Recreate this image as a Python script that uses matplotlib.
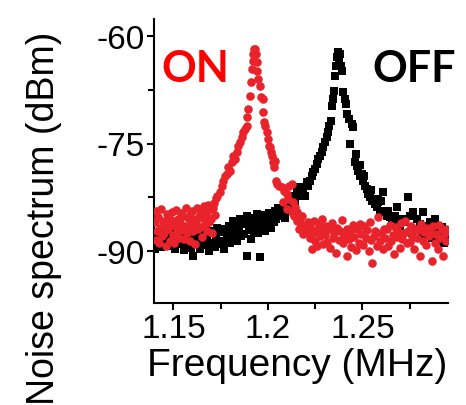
import numpy as np
import matplotlib
matplotlib.use("Agg")
import matplotlib.pyplot as plt
from matplotlib.ticker import FixedLocator

# ---- data (MHz, dBm) ----
on_freq = [
    1.1400, 1.1405, 1.1410, 1.1415, 1.1420, 1.1425, 1.1430, 1.1435, 1.1440, 1.1445,
    1.1450, 1.1455, 1.1460, 1.1465, 1.1470, 1.1475, 1.1480, 1.1485, 1.1490, 1.1495,
    1.1500, 1.1505, 1.1510, 1.1515, 1.1520, 1.1525, 1.1530, 1.1535, 1.1540, 1.1545,
    1.1550, 1.1555, 1.1560, 1.1565, 1.1570, 1.1575, 1.1580, 1.1585, 1.1590, 1.1595,
    1.1600, 1.1605, 1.1610, 1.1615, 1.1620, 1.1625, 1.1630, 1.1635, 1.1640, 1.1645,
    1.1650, 1.1655, 1.1660, 1.1665, 1.1670, 1.1675, 1.1680, 1.1685, 1.1690, 1.1695,
    1.1700, 1.1705, 1.1710, 1.1715, 1.1720, 1.1725, 1.1729, 1.1746, 1.1755, 1.1764,
    1.1773, 1.1782, 1.1790, 1.1799, 1.1808, 1.1817, 1.1826, 1.1834, 1.1843, 1.1852,
    1.1861, 1.1870, 1.1878, 1.1887, 1.1891, 1.1896, 1.1905, 1.1910, 1.1916, 1.1919,
    1.1923, 1.1928, 1.1933, 1.1937, 1.1940, 1.1944, 1.1949, 1.1958, 1.1961, 1.1972,
    1.1976, 1.1979, 1.1986, 1.1993, 1.1999, 1.2004, 1.2011, 1.2016, 1.2023, 1.2029,
    1.2034, 1.2038, 1.2043, 1.2050, 1.2061, 1.2073, 1.2081, 1.2086, 1.2099, 1.2099,
    1.2108, 1.2113, 1.2126, 1.2126, 1.2134, 1.2138, 1.2143, 1.2152, 1.2152, 1.2161,
    1.2166, 1.2170, 1.2178, 1.2184, 1.2187, 1.2196, 1.2205, 1.2214,
    1.2220, 1.2225, 1.2232, 1.2238, 1.2245, 1.2250, 1.2256, 1.2262, 1.2268, 1.2274,
    1.2279, 1.2284, 1.2292, 1.2300, 1.2308, 1.2315, 1.2322, 1.2330, 1.2338, 1.2345,
    1.2352, 1.2360, 1.2368, 1.2375, 1.2382, 1.2390, 1.2398, 1.2405, 1.2417, 1.2420,
    1.2428, 1.2435, 1.2442, 1.2450, 1.2458, 1.2465, 1.2472, 1.2480, 1.2488, 1.2495,
    1.2503, 1.2510, 1.2518, 1.2525, 1.2533, 1.2540, 1.2547, 1.2553, 1.2560, 1.2568,
    1.2575, 1.2584, 1.2592, 1.2600, 1.2608, 1.2615, 1.2622, 1.2630, 1.2638, 1.2645,
    1.2652, 1.2660, 1.2668, 1.2675, 1.2682, 1.2690, 1.2698, 1.2705, 1.2712, 1.2720,
    1.2728, 1.2735, 1.2742, 1.2750, 1.2758, 1.2765, 1.2772, 1.2780, 1.2788, 1.2795,
    1.2805, 1.2812, 1.2820, 1.2828, 1.2835, 1.2842, 1.2850, 1.2858, 1.2867, 1.2875,
    1.2882, 1.2890, 1.2898, 1.2905, 1.2912, 1.2920, 1.2929, 1.2935, 1.2940, 1.2945,
]
on_noise = [
    -86.0, -88.5, -84.5, -87.2, -85.3, -89.0, -86.8, -84.2, -88.0, -85.8,
    -87.5, -86.2, -89.3, -84.9, -87.0, -85.5, -88.6, -86.4, -84.6, -87.8,
    -85.9, -88.9, -86.6, -84.3, -87.4, -85.6, -88.2, -86.1, -84.8, -87.1,
    -85.2, -88.4, -86.5, -84.1, -87.6, -85.4, -86.9, -88.7, -85.0, -86.3,
    -84.4, -87.3, -85.7, -89.1, -86.0, -84.0, -87.0, -85.1, -86.7, -84.5,
    -88.1, -85.5, -83.8, -86.2, -84.7, -87.2, -85.3, -83.6, -86.0, -84.2,
    -85.6, -87.5, -84.0, -83.3, -85.0, -82.6, -82.3, -81.8, -80.9, -80.2,
    -79.5, -79.3, -78.3, -78.8, -77.6, -76.7, -77.2, -76.2, -75.3, -74.8,
    -74.1, -73.4, -73.0, -72.5, -71.3, -70.2, -68.3, -66.4, -64.6, -63.4,
    -62.5, -61.8, -61.7, -62.5, -63.6, -64.8, -66.0, -66.9, -68.5, -68.8,
    -70.6, -72.0, -72.5, -73.4, -74.4, -75.3, -75.5, -76.2, -76.7, -77.6,
    -78.3, -77.4, -80.2, -80.7, -80.9, -81.1, -83.2, -81.6, -82.1, -84.2,
    -82.8, -80.9, -80.7, -84.6, -83.2, -85.1, -83.9, -84.6, -85.8, -85.6,
    -87.0, -86.0, -85.1, -87.7, -87.0, -86.5, -87.4, -86.0,
    -88.3, -86.7, -89.8, -87.5, -85.9, -88.6, -87.1, -89.4, -86.3, -88.0,
    -87.3, -85.6, -89.1, -87.8, -86.5, -88.8, -87.0, -89.6, -86.1, -88.2,
    -87.6, -90.3, -86.8, -88.5, -87.2, -85.7, -89.0, -87.9, -90.7, -86.9,
    -88.4, -87.4, -89.5, -86.4, -88.1, -89.9, -87.0, -88.9, -86.2, -87.7,
    -89.2, -86.6, -88.3, -87.1, -90.1, -86.0, -88.5, -91.7, -88.0, -87.3,
    -89.4, -85.3, -88.7, -87.5, -89.8, -86.9, -88.2, -87.0, -89.3, -86.4,
    -88.6, -87.8, -90.4, -86.7, -88.1, -87.2, -89.6, -86.1, -88.4, -87.6,
    -85.8, -89.0, -87.3, -88.8, -86.5, -87.9, -89.7, -86.9, -88.3, -87.1,
    -90.7, -86.3, -88.6, -87.4, -89.2, -86.8, -88.0, -87.5, -91.4, -86.6,
    -88.9, -87.7, -89.8, -86.4, -88.2, -87.0, -90.7, -87.6, -88.7, -86.9,
]

off_freq = [
    1.1400, 1.1405, 1.1412, 1.1420, 1.1428, 1.1435, 1.1442, 1.1450, 1.1458, 1.1465,
    1.1472, 1.1480, 1.1488, 1.1495, 1.1502, 1.1510, 1.1518, 1.1525, 1.1532, 1.1540,
    1.1548, 1.1555, 1.1562, 1.1570, 1.1578, 1.1585, 1.1592, 1.1600, 1.1605, 1.1612,
    1.1620, 1.1628, 1.1635, 1.1642, 1.1650, 1.1658, 1.1665, 1.1672, 1.1680, 1.1688,
    1.1695, 1.1702, 1.1710, 1.1718, 1.1725, 1.1732, 1.1740, 1.1748, 1.1755, 1.1762,
    1.1770, 1.1778, 1.1785, 1.1792, 1.1800, 1.1808, 1.1815, 1.1822, 1.1830, 1.1838,
    1.1845, 1.1852, 1.1860, 1.1868, 1.1875, 1.1882, 1.1887, 1.1890, 1.1898, 1.1905,
    1.1912, 1.1920, 1.1928, 1.1935, 1.1942, 1.1950, 1.1958, 1.1962, 1.1970, 1.1978,
    1.1985, 1.1992, 1.2000, 1.2008, 1.2015, 1.2022, 1.2030, 1.2038, 1.2045, 1.2052,
    1.2060, 1.2068, 1.2075,
    1.2081, 1.2090, 1.2099, 1.2108, 1.2117, 1.2126, 1.2134, 1.2143, 1.2152, 1.2161,
    1.2170, 1.2178, 1.2187, 1.2196, 1.2205, 1.2214, 1.2223, 1.2231, 1.2240, 1.2249,
    1.2258, 1.2267, 1.2276, 1.2284, 1.2293, 1.2302, 1.2311, 1.2320, 1.2325, 1.2332,
    1.2337, 1.2343, 1.2350, 1.2355, 1.2360, 1.2367, 1.2373, 1.2378, 1.2382, 1.2387,
    1.2394, 1.2399, 1.2406, 1.2413, 1.2420, 1.2427, 1.2435, 1.2443, 1.2452, 1.2461,
    1.2465, 1.2470, 1.2479, 1.2485, 1.2488, 1.2496, 1.2505, 1.2510, 1.2514, 1.2523,
    1.2532, 1.2541, 1.2545, 1.2549, 1.2558, 1.2567, 1.2576, 1.2580, 1.2585, 1.2594,
    1.2600, 1.2611, 1.2620, 1.2629, 1.2638, 1.2646, 1.2655, 1.2673, 1.2682, 1.2691,
    1.2700, 1.2708, 1.2726, 1.2743, 1.2752, 1.2760, 1.2770, 1.2788, 1.2805, 1.2815,
    1.2823, 1.2841, 1.2858, 1.2870, 1.2876, 1.2885, 1.2902, 1.2910, 1.2920, 1.2930,
    1.2937, 1.2950,
]
off_noise = [
    -89.8, -88.2, -89.0, -87.5, -88.7, -89.5, -87.9, -88.4, -89.2, -87.6,
    -88.9, -88.0, -89.4, -87.3, -88.6, -89.7, -87.8, -88.3, -89.1, -87.4,
    -88.8, -89.9, -88.1, -89.3, -87.7, -88.5, -89.6, -87.2, -90.7, -88.3,
    -89.0, -87.5, -88.7, -89.8, -87.9, -88.4, -89.2, -87.1, -88.6, -90.0,
    -87.6, -88.9, -87.3, -89.5, -88.0, -86.8, -89.1, -87.4, -88.6, -86.9,
    -89.8, -87.2, -88.3, -86.5, -88.9, -87.0, -85.9, -88.1, -86.6, -88.7,
    -87.4, -85.6, -88.0, -86.3, -87.7, -86.0, -90.7, -85.2, -87.1, -86.0,
    -88.4, -85.5, -87.3, -86.1, -84.9, -87.6, -90.9, -85.8, -86.9, -85.0,
    -87.2, -85.7, -86.4, -84.7, -86.8, -85.3, -86.0, -84.5, -85.6, -84.1,
    -85.2, -84.0, -84.8,
    -84.6, -85.5, -83.7, -84.3, -82.8, -83.9, -82.3, -83.0, -81.6, -82.3,
    -81.1, -82.0, -81.4, -82.3, -80.4, -80.9, -80.2, -79.5, -79.0, -78.6,
    -77.9, -77.2, -76.7, -76.2, -75.5, -74.8, -74.1, -73.4, -72.5, -71.8,
    -69.7, -68.8, -67.6, -65.5, -64.1, -62.9, -62.2, -63.2, -62.5, -64.1,
    -64.8, -67.8, -68.8, -69.5, -70.9, -71.6, -75.1, -72.3, -72.7, -77.6,
    -76.5, -78.1, -78.8, -78.0, -79.5, -79.3, -80.2, -79.5, -80.9, -81.4,
    -82.1, -82.5, -81.5, -83.0, -82.8, -83.5, -83.9, -82.7, -83.2, -84.4,
    -83.0, -81.8, -84.6, -85.1, -84.4, -85.3, -85.6, -85.1, -83.9, -85.8,
    -87.2, -85.6, -86.0, -82.5, -85.1, -87.5, -84.6, -85.6, -86.3, -87.8,
    -84.6, -86.5, -86.0, -88.3, -87.0, -85.6, -87.4, -88.6, -86.7, -89.0,
    -87.9, -87.4,
]

x_ticks = [1.15, 1.2, 1.25]
x_tick_labels = ["1.15", "1.2", "1.25"]
y_ticks = [-60, -75, -90]

# ---- figure ----
plt.rcParams["font.family"] = ["Liberation Sans", "DejaVu Sans"]
plt.rcParams["axes.unicode_minus"] = False

fig = plt.figure(figsize=(4.66, 4.06), dpi=100)
ax = fig.add_axes([154 / 466, 1 - 304 / 406, 294 / 466, 284 / 406])

ax.scatter(off_freq, off_noise, marker="s", s=30, color="black", linewidths=0, zorder=2)
ax.scatter(on_freq, on_noise, marker="o", s=38, color="#e8232b", linewidths=0, zorder=3)

ax.set_xlim(1.1397, 1.2953)
ax.set_ylim(-97.33, -57.57)

ax.xaxis.set_major_locator(FixedLocator(x_ticks))
ax.set_xticklabels(x_tick_labels)
ax.xaxis.set_minor_locator(FixedLocator([1.175, 1.225, 1.275]))
ax.yaxis.set_major_locator(FixedLocator(y_ticks))
ax.yaxis.set_minor_locator(FixedLocator([-67.5, -82.5]))

for side in ["top", "right"]:
    ax.spines[side].set_visible(False)
for side in ["left", "bottom"]:
    ax.spines[side].set_linewidth(1.5)

ax.tick_params(which="major", direction="out", length=5, width=1.5, labelsize=24, pad=2)
ax.tick_params(which="minor", direction="out", length=4, width=1.5)

ax.set_xlabel("Frequency (MHz)", fontsize=28)
ax.xaxis.set_label_coords(0.488, -0.155)
ax.xaxis.label.set_va("top")

ax.set_ylabel("Noise spectrum (dBm)", fontsize=27)
ax.yaxis.set_label_coords(-0.313, 0.30)

fig.text(0.347, 0.798, "ON", color="#ff0000", fontsize=31, fontweight="bold",
         family=["Lato", "DejaVu Sans"], va="baseline")
fig.text(0.800, 0.798, "OFF", color="black", fontsize=31, fontweight="bold",
         family=["Lato", "DejaVu Sans"], va="baseline")

fig.savefig("out.png", dpi=100)
